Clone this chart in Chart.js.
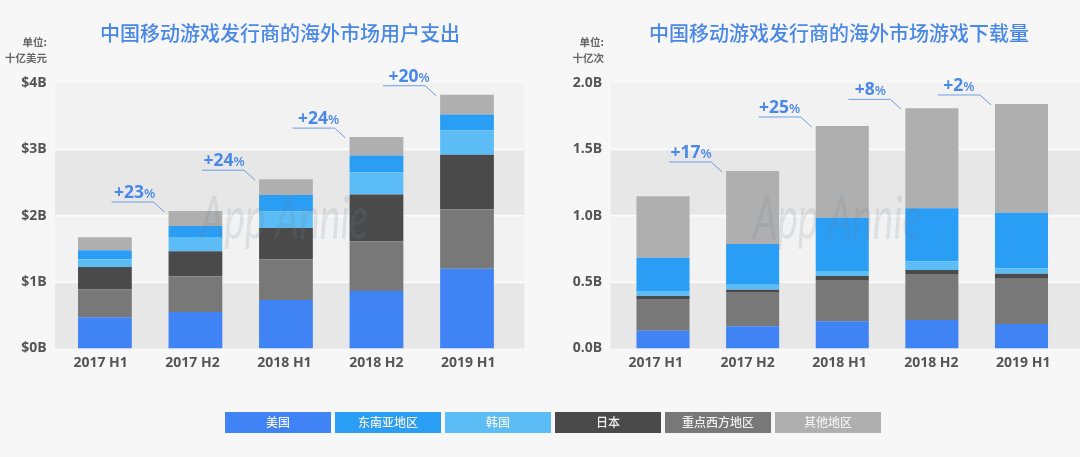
<!DOCTYPE html>
<html>
<head>
<meta charset="utf-8">
<script src="https://cdn.jsdelivr.net/npm/chart.js@4/dist/chart.umd.min.js"></script>
<style>
    html, body { margin: 0; padding: 0; background: #f7f7f7; }
    body { position: relative; width: 1080px; height: 457px; overflow: hidden; font-family: "Noto Sans CJK SC", sans-serif; }
    canvas { position: absolute; top: 0; }
    .title { position: absolute; top: 18px; text-align: center; font-size: 20px; line-height: 30px; font-weight: 500; color: #4a88e8; white-space: nowrap; }
    .unit { position: absolute; top: 34px; text-align: right; font-size: 10.5px; line-height: 16px; font-weight: 700; color: #666; }
    #legend { position: absolute; left: 225px; top: 412px; display: flex; gap: 4px; }
    #legend span { display: block; width: 106px; height: 21px; line-height: 20px; text-align: center; font-size: 12px; font-weight: 500; color: #f0f0f0; }
</style>
</head>
<body>
<canvas id="spendChart" width="540" height="457" style="left:0;width:540px;height:457px"></canvas>
<canvas id="downloadChart" width="540" height="457" style="left:540px;width:540px;height:457px"></canvas>
<div class="title" style="left:80px;width:400px">中国移动游戏发行商的海外市场用户支出</div>
<div class="title" style="left:639px;width:400px">中国移动游戏发行商的海外市场游戏下载量</div>
<div class="unit" style="left:0;width:47px">单位:<br>十亿美元</div>
<div class="unit" style="left:544px;width:60px">单位:<br>十亿次</div>
<div id="legend"></div>
<script>
const categories = ["2017 H1", "2017 H2", "2018 H1", "2018 H2", "2019 H1"];

const seriesNames = ["美国", "东南亚地区", "韩国", "日本", "重点西方地区", "其他地区"];
const seriesColors = ["#3f83f5", "#2a9df4", "#5bbcf6", "#4a4a4a", "#787878", "#afafaf"];
// stacking order in the bars, bottom to top (index into seriesNames)
const stackOrder = [0, 4, 3, 2, 1, 5];

// user spend, billion USD
const spendUS = [0.47, 0.55, 0.73, 0.865, 1.203];
const spendSEA = [0.136, 0.167, 0.242, 0.251, 0.234];
const spendKorea = [0.116, 0.211, 0.252, 0.337, 0.372];
const spendJapan = [0.337, 0.377, 0.473, 0.705, 0.82];
const spendWest = [0.42, 0.54, 0.614, 0.75, 0.895];
const spendOther = [0.196, 0.226, 0.24, 0.277, 0.299];
const spendGrowth = ["+23", "+24", "+24", "+20"];

// downloads, billions
const dlUS = [0.134, 0.167, 0.205, 0.215, 0.185];
const dlSEA = [0.251, 0.301, 0.401, 0.399, 0.419];
const dlKorea = [0.038, 0.043, 0.038, 0.066, 0.041];
const dlJapan = [0.022, 0.018, 0.035, 0.03, 0.037];
const dlWest = [0.239, 0.258, 0.306, 0.346, 0.341];
const dlOther = [0.462, 0.55, 0.691, 0.753, 0.819];
const dlGrowth = ["+17", "+25", "+8", "+2"];

const latin = '"Open Sans", sans-serif';

// alternating grey bands behind the bars, they run wider than the bars do
const bandsPlugin = {
    id: "bands",
    beforeDatasetsDraw(chart, args, opts) {
        const { ctx, chartArea, scales } = chart;
        const left = chartArea.left - opts.extendLeft;
        const width = chartArea.width + opts.extendLeft + opts.extendRight;
        const ticks = scales.y.ticks.map((t) => t.value);
        ctx.save();
        for (let i = 0; i < ticks.length - 1; i++) {
            const bottom = scales.y.getPixelForValue(ticks[i]);
            const top = scales.y.getPixelForValue(ticks[i + 1]);
            ctx.fillStyle = i % 2 === 0 ? "#e7e7e7" : "#f2f2f2";
            ctx.fillRect(left, top, width, bottom - top);
            if (i > 0) {
                ctx.fillStyle = "#fafafa";
                ctx.fillRect(left, bottom - 1, width, 2);
            }
        }
        ctx.restore();
    }
};

// watermark and the growth callouts on top of the bars
const overlayPlugin = {
    id: "overlay",
    afterDatasetsDraw(chart, args, opts) {
        const { ctx } = chart;
        ctx.save();
        ctx.font = "italic 400 60px Lato, sans-serif";
        const w = ctx.measureText("App Annie").width;
        ctx.translate(opts.markLeft, 239);
        ctx.scale(168 / w, 1);
        ctx.textBaseline = "alphabetic";
        ctx.fillStyle = "rgba(120,130,140,0.17)";
        ctx.fillText("App Annie", 0, 0);
        ctx.restore();

        const bars = chart.getDatasetMeta(chart.data.datasets.length - 1).data;
        opts.growth.forEach((label, i) => {
            const bar = bars[i + 1];
            const endX = bar.x - bar.width / 2 - 4;
            const endY = bar.y + 1;
            const elbowX = endX - 11;
            const elbowY = endY - 10;
            ctx.save();
            ctx.strokeStyle = "#6f9de6";
            ctx.lineWidth = 1;
            ctx.beginPath();
            ctx.moveTo(elbowX - 42, elbowY);
            ctx.lineTo(elbowX, elbowY);
            ctx.lineTo(endX, endY);
            ctx.stroke();

            ctx.fillStyle = "#4a88e8";
            ctx.textBaseline = "alphabetic";
            ctx.font = "700 17.5px " + latin;
            const numW = ctx.measureText(label).width;
            ctx.font = "600 13px " + latin;
            const pctW = ctx.measureText("%").width;
            const startX = elbowX - 20 + opts.nudge[i] - (numW + pctW) / 2;
            ctx.font = "700 17.5px " + latin;
            ctx.fillText(label, startX, elbowY - 4);
            ctx.font = "600 13px " + latin;
            ctx.fillText("%", startX + numW, elbowY - 4);
            ctx.restore();
        });
    }
};

function drawChart(id, values, cfg) {
    const datasets = stackOrder.map((s) => ({
        label: seriesNames[s],
        data: values[s],
        backgroundColor: seriesColors[s],
        xAxisID: "x",
        yAxisID: "y",
        barPercentage: cfg.barShare,
        categoryPercentage: 1
    }));

    return new Chart(document.getElementById(id), {
        type: "bar",
        data: { labels: categories, datasets },
        plugins: [bandsPlugin, overlayPlugin],
        options: {
            responsive: false,
            animation: false,
            devicePixelRatio: 1,
            layout: { padding: { top: 83, right: cfg.right, left: 0, bottom: 0 } },
            plugins: {
                legend: { display: false },
                tooltip: { enabled: false },
                bands: { extendLeft: cfg.extendLeft, extendRight: cfg.extendRight },
                overlay: { growth: cfg.growth, markLeft: cfg.markLeft, nudge: cfg.nudge }
            },
            scales: {
                x: { stacked: true, display: false },
                // labels are spaced a little wider than the bars in the original, so they get their own axis
                labelAxis: {
                    type: "linear",
                    position: "bottom",
                    offset: false,
                    min: cfg.labelMin,
                    max: cfg.labelMax,
                    grid: { display: false, tickLength: 0 },
                    border: { display: false },
                    afterBuildTicks: (axis) => { axis.ticks = categories.map((_, i) => ({ value: i })); },
                    afterFit: (axis) => { axis.height = 108.5; },
                    ticks: {
                        autoSkip: false,
                        maxRotation: 0,
                        padding: 6,
                        color: "#555",
                        font: { family: latin, size: 14, weight: "700" },
                        callback: (v) => categories[v]
                    }
                },
                y: {
                    stacked: true,
                    min: 0,
                    max: cfg.yMax,
                    grid: { display: false, tickLength: 0 },
                    border: { display: false },
                    afterFit: (axis) => { axis.width = cfg.axisWidth; },
                    ticks: {
                        stepSize: cfg.step,
                        padding: cfg.tickPad,
                        color: "#555",
                        font: { family: latin, size: 14, weight: "700" },
                        callback: cfg.format
                    }
                }
            }
        }
    });
}

drawChart("spendChart", [spendUS, spendSEA, spendKorea, spendJapan, spendWest, spendOther], {
    growth: spendGrowth, nudge: [1, 0, 4, 4], yMax: 4, step: 1, format: (v) => "$" + v + "B",
    axisWidth: 59.65, tickPad: 13, right: 27.75, barShare: 0.594,
    labelMin: -0.4456, labelMax: 4.479, extendLeft: 4.65, extendRight: 12.25, markLeft: 200
});

drawChart("downloadChart", [dlUS, dlSEA, dlKorea, dlJapan, dlWest, dlOther], {
    growth: dlGrowth, nudge: [0, -1, 0, -1], yMax: 2, step: 0.5, format: (v) => v.toFixed(1) + "B",
    axisWidth: 78.2, tickPad: 16, right: 13.7, barShare: 0.592,
    labelMin: -0.408, labelMax: 4.468, extendLeft: 7.6, extendRight: 13.7, markLeft: 213
});

const legend = document.getElementById("legend");
seriesNames.forEach((name, i) => {
    const item = document.createElement("span");
    item.textContent = name;
    item.style.background = seriesColors[i];
    legend.appendChild(item);
});
</script>
</body>
</html>
